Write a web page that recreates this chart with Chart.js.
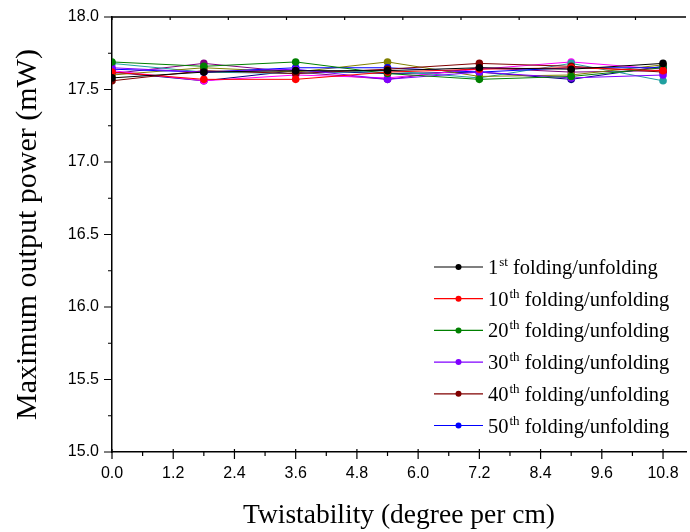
<!DOCTYPE html>
<html>
<head>
<meta charset="utf-8">
<script src="https://cdn.jsdelivr.net/npm/chart.js@4.4.1/dist/chart.umd.min.js"></script>
<style>
  html, body { margin: 0; padding: 0; background: #fff; }
  #wrap { width: 690px; height: 532px; position: relative; }
</style>
</head>
<body>
<div id="wrap"><canvas id="powerChart"></canvas></div>
<script>
// Data
const twist = [0, 1.8, 3.6, 5.4, 7.2, 9.0, 10.8];

const first   = [17.58, 17.62, 17.63, 17.63, 17.65, 17.64, 17.68];
const tenth   = [17.62, 17.57, 17.57, 17.62, 17.64, 17.65, 17.63];
const twenty  = [17.69, 17.66, 17.69, 17.61, 17.57, 17.59, 17.65];
const thirty  = [17.65, 17.62, 17.64, 17.57, 17.62, 17.58, 17.60];
const forty   = [17.56, 17.63, 17.61, 17.64, 17.68, 17.66, 17.62];
const fifty   = [17.64, 17.62, 17.65, 17.65, 17.62, 17.65, 17.65];

// extra curves drawn in the plot but not listed in the legend
const extraOlive   = [17.60, 17.65, 17.62, 17.69, 17.59, 17.60, 17.67];
const extraTeal    = [17.68, 17.62, 17.61, 17.63, 17.58, 17.68, 17.56];
const extraMagenta = [17.63, 17.56, 17.60, 17.58, 17.64, 17.69, 17.64];
const extraNavy    = [17.62, 17.56, 17.63, 17.61, 17.62, 17.57, 17.66];
const extraPurple  = [17.61, 17.68, 17.62, 17.57, 17.65, 17.62, 17.63];

const xTicks = [0, 1.2, 2.4, 3.6, 4.8, 6.0, 7.2, 8.4, 9.6, 10.8];
const yTicks = [15.0, 15.5, 16.0, 16.5, 17.0, 17.5, 18.0];

const series = [
    { label: '1st folding/unfolding',  data: first,  color: '#000000', legend: true },
    { label: '10th folding/unfolding', data: tenth,  color: '#ff0000', legend: true },
    { label: '20th folding/unfolding', data: twenty, color: '#008000', legend: true },
    { label: '30th folding/unfolding', data: thirty, color: '#8000ff', legend: true },
    { label: '40th folding/unfolding', data: forty,  color: '#800000', legend: true },
    { label: '50th folding/unfolding', data: fifty,  color: '#0000ff', legend: true },
    { label: 'olive',   data: extraOlive,   color: '#808000', legend: false },
    { label: 'teal',    data: extraTeal,    color: '#20a0a0', legend: false },
    { label: 'magenta', data: extraMagenta, color: '#ff00ff', legend: false },
    { label: 'navy',    data: extraNavy,    color: '#000080', legend: false },
    { label: 'purple',  data: extraPurple,  color: '#800080', legend: false }
];

// Origin style ticks: majors + minors, top axis with inward ticks
const frameTicks = {
    id: 'frameTicks',
    afterDraw(chart) {
        const { ctx, chartArea: a } = chart;
        const xs = chart.scales.x, ys = chart.scales.y;
        ctx.save();
        ctx.strokeStyle = '#000';
        ctx.lineWidth = 1.5;
        ctx.beginPath();
        ctx.moveTo(a.left, a.top);
        ctx.lineTo(a.right, a.top);
        ctx.stroke();
        ctx.lineWidth = 1.2;
        ctx.beginPath();
        // bottom axis
        for (let v = 0; v <= xs.max + 1e-6; v += 0.6) {
            const px = xs.getPixelForValue(v);
            const major = Math.round(v / 0.6) % 2 === 0;
            ctx.moveTo(px, a.bottom - (major ? 3 : 0));
            ctx.lineTo(px, a.bottom + (major ? 7 : 4));
        }
        // top axis
        for (let v = 0; v <= xs.max + 1e-6; v += 1.14) {
            const px = xs.getPixelForValue(v);
            ctx.moveTo(px, a.top);
            ctx.lineTo(px, a.top + 3);
        }
        // left axis
        for (let v = 15.0; v <= 18.0 + 1e-6; v += 0.25) {
            const py = ys.getPixelForValue(v);
            const major = Math.round(v / 0.25) % 2 === 0;
            ctx.moveTo(a.left - (major ? 8 : 4), py);
            ctx.lineTo(a.left, py);
        }
        ctx.stroke();
        ctx.restore();
    }
};

// Legend with superscript ordinals
const supLegend = {
    id: 'supLegend',
    afterDraw(chart) {
        const { ctx, chartArea: a } = chart;
        const x0 = a.left + 322;
        const y0 = a.top + 250;
        const rowH = 31.7;
        ctx.save();
        let row = 0;
        chart.data.datasets.forEach(ds => {
            if (!ds.showInLegend) return;
            const y = y0 + row * rowH;
            ctx.strokeStyle = ds.borderColor;
            ctx.lineWidth = 1.2;
            ctx.beginPath();
            ctx.moveTo(x0, y);
            ctx.lineTo(x0 + 49, y);
            ctx.stroke();
            ctx.fillStyle = ds.borderColor;
            ctx.beginPath();
            ctx.arc(x0 + 24.5, y, 3, 0, Math.PI * 2);
            ctx.fill();

            const m = ds.label.match(/^(\d+)(st|nd|rd|th)(.*)$/);
            let tx = x0 + 54;
            ctx.fillStyle = '#000';
            ctx.textBaseline = 'alphabetic';
            ctx.font = '20.5px "Liberation Serif", "Times New Roman", serif';
            ctx.fillText(m[1], tx, y + 7);
            tx += ctx.measureText(m[1]).width;
            ctx.font = '13px "Liberation Serif", "Times New Roman", serif';
            ctx.fillText(m[2], tx + 1, y - 1);
            tx += ctx.measureText(m[2]).width + 1;
            ctx.font = '20.5px "Liberation Serif", "Times New Roman", serif';
            ctx.fillText(m[3], tx, y + 7);
            row++;
        });
        ctx.restore();
    }
};

const ctx = document.getElementById('powerChart').getContext('2d');
new Chart(ctx, {
    type: 'line',
    data: {
        datasets: series.map(s => ({
            label: s.label,
            data: s.data.map((v, i) => ({ x: twist[i], y: v })),
            borderColor: s.color,
            backgroundColor: s.color,
            pointBackgroundColor: s.color,
            pointBorderColor: s.color,
            borderWidth: 1,
            pointRadius: 3.8,
            pointBorderWidth: 0,
            tension: 0,
            fill: false,
            showInLegend: s.legend
        }))
    },
    options: {
        responsive: true,
        maintainAspectRatio: false,
        animation: false,
        layout: { padding: { top: 17, right: 1, left: 0, bottom: 0 } },
        plugins: {
            legend: { display: false },
            tooltip: { enabled: false }
        },
        scales: {
            x: {
                type: 'linear',
                min: 0,
                max: 11.25,
                afterFit: s => { s.height = 80; s.paddingLeft = 0; s.paddingRight = 0; },
                afterBuildTicks: s => { s.ticks = xTicks.map(v => ({ value: v })); },
                grid: { drawOnChartArea: false, drawTicks: false },
                border: { display: true, color: '#000', width: 1.5 },
                ticks: {
                    padding: 12,
                    color: '#000',
                    maxRotation: 0,
                    autoSkip: false,
                    font: { family: '"Liberation Sans", Arial, sans-serif', size: 16 },
                    callback: v => v.toFixed(1)
                },
                title: {
                    display: true,
                    text: 'Twistability (degree per cm)',
                    color: '#000',
                    font: { family: '"Liberation Serif", "Times New Roman", serif', size: 27.5 },
                    padding: { top: 0, bottom: 0 }
                }
            },
            y: {
                min: 15,
                max: 18,
                afterFit: s => { s.width = 112; s.paddingTop = 0; s.paddingBottom = 0; },
                afterBuildTicks: s => { s.ticks = yTicks.map(v => ({ value: v })); },
                grid: { drawOnChartArea: false, drawTicks: false },
                border: { display: true, color: '#000', width: 1.5 },
                ticks: {
                    padding: 13,
                    color: '#000',
                    autoSkip: false,
                    font: { family: '"Liberation Sans", Arial, sans-serif', size: 16 },
                    callback: v => v.toFixed(1)
                },
                title: {
                    display: true,
                    text: 'Maximum output power (mW)',
                    color: '#000',
                    font: { family: '"Liberation Serif", "Times New Roman", serif', size: 30 },
                    padding: { top: 10, bottom: 0 }
                }
            }
        }
    },
    plugins: [frameTicks, supLegend]
});
</script>
</body>
</html>
